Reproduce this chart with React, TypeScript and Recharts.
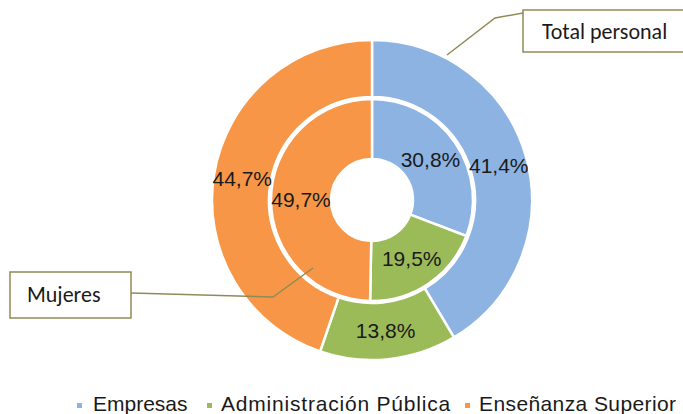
import React from "react";
import { PieChart, Pie, Cell, Legend } from "recharts";

const categories = ["Empresas", "Administración Pública", "Enseñanza Superior"];
const totalPersonal = [41.4, 13.8, 44.7];
const mujeres = [30.8, 19.5, 49.7];
const colors = ["#8DB3E2", "#9BBB59", "#F79646"];

const outerData = categories.map((name, i) => ({ name, value: totalPersonal[i] }));
const innerData = categories.map((name, i) => ({ name, value: mujeres[i] }));

const RADIAN = Math.PI / 180;
const fmt = (v: number) => `${v.toFixed(1).replace(".", ",")}%`;

const renderLabel = (props: any) => {
  const { cx, cy, midAngle, innerRadius, outerRadius, value } = props;
  const r = (innerRadius + outerRadius) / 2;
  const x = cx + r * Math.cos(-midAngle * RADIAN);
  const y = cy + r * Math.sin(-midAngle * RADIAN);
  return (
    <text
      x={x}
      y={y}
      fill="#1a1a1a"
      textAnchor="middle"
      dominantBaseline="central"
      fontSize={21}
      fontFamily="'Liberation Sans', Arial, sans-serif"
    >
      {fmt(value)}
    </text>
  );
};

// legend item widths (square to next square)
const legendWidths = [130, 258, 220];
const legendSpacing = [0, 0.8, 0.4];

const renderLegend = () => (
  <div
    style={{
      display: "flex",
      fontFamily: "'Liberation Sans', Arial, sans-serif",
      fontSize: 21,
      lineHeight: "21px",
      color: "#1a1a1a",
      whiteSpace: "nowrap",
    }}
  >
    {categories.map((c, i) => (
      <div key={c} style={{ display: "flex", alignItems: "center", width: legendWidths[i] }}>
        <span
          style={{
            display: "inline-block",
            width: 5,
            height: 5,
            background: colors[i],
            marginRight: i === 0 ? 11 : 9,
            marginTop: 4,
          }}
        />
        <span style={{ letterSpacing: legendSpacing[i] }}>{c}</span>
      </div>
    ))}
  </div>
);

const calloutFont = "Carlito, 'Open Sans', sans-serif";
const calloutStroke = "#8f8b58";

export default function App() {
  return (
    <div style={{ position: "absolute", left: 0, top: 0, width: 683, height: 414, background: "#fff", overflow: "hidden" }}>
      <PieChart width={683} height={414} margin={{ top: 0, right: 0, bottom: 0, left: 0 }}>
        <Pie
          data={outerData}
          dataKey="value"
          cx={372}
          cy={200}
          innerRadius={103}
          outerRadius={160}
          startAngle={90}
          endAngle={-270}
          stroke="#fff"
          strokeWidth={2.5}
          label={renderLabel}
          labelLine={false}
          isAnimationActive={false}
        >
          {outerData.map((d, i) => (
            <Cell key={d.name} fill={colors[i]} />
          ))}
        </Pie>
        <Pie
          data={innerData}
          dataKey="value"
          cx={372}
          cy={200}
          innerRadius={41}
          outerRadius={101}
          startAngle={90}
          endAngle={-270}
          stroke="#fff"
          strokeWidth={2.5}
          label={renderLabel}
          labelLine={false}
          isAnimationActive={false}
        >
          {innerData.map((d, i) => (
            <Cell key={d.name} fill={colors[i]} />
          ))}
        </Pie>
        <Legend
          content={renderLegend}
          wrapperStyle={{ position: "absolute", left: 77, top: 393, width: "auto" }}
        />
      </PieChart>
      <svg width={683} height={414} style={{ position: "absolute", left: 0, top: 0, pointerEvents: "none" }}>
        <polyline points="523,13 495,18 447,55" fill="none" stroke={calloutStroke} strokeWidth={1.5} />
        <rect x={523} y={10} width={170} height={42} fill="#fff" stroke={calloutStroke} strokeWidth={1.5} />
        <text x={542} y={39} fontSize={22} fontFamily={calloutFont} fill="#1a1a1a">
          Total personal
        </text>
        <polyline points="131,293 273,297 313,268" fill="none" stroke={calloutStroke} strokeWidth={1.5} />
        <rect x={10} y={272} width={121} height={46} fill="#fff" stroke={calloutStroke} strokeWidth={1.5} />
        <text x={27} y={302} fontSize={22} fontFamily={calloutFont} fill="#1a1a1a">
          Mujeres
        </text>
      </svg>
    </div>
  );
}
